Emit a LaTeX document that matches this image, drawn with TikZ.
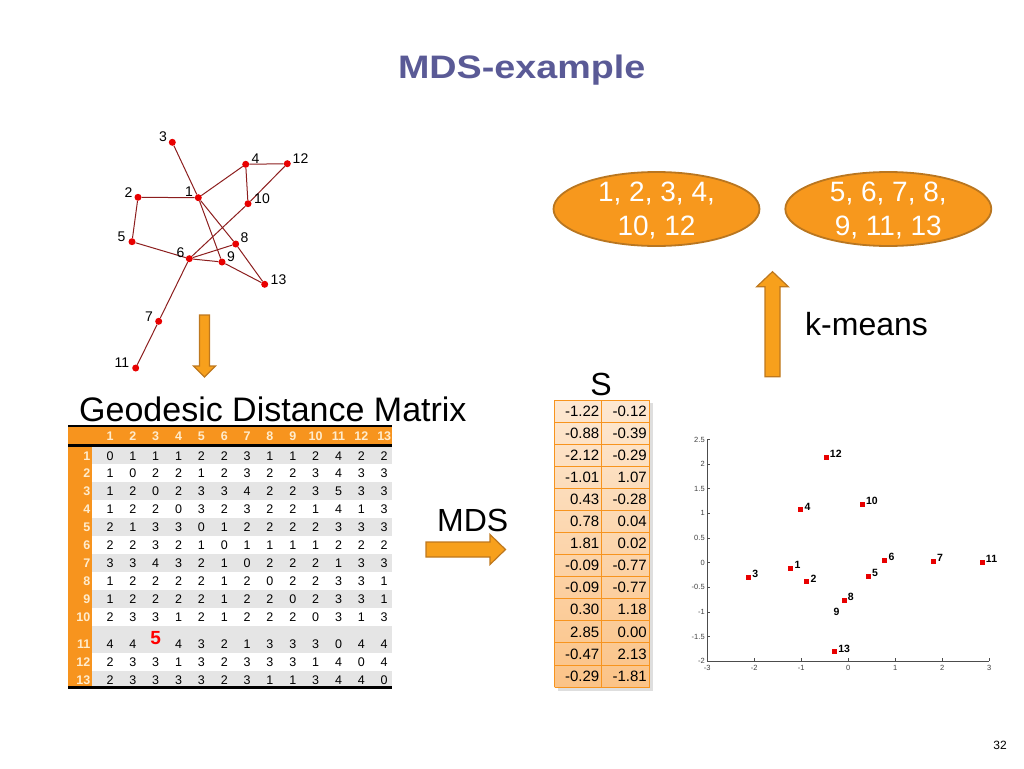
\documentclass[tikz,border=0pt]{standalone}
\usepackage{fontspec}
\setmainfont{Liberation Sans}
\usetikzlibrary{calc,shapes.geometric}
\definecolor{titleblue}{RGB}{90,90,150}
\definecolor{mOrange}{RGB}{247,148,30}
\definecolor{ellFill}{RGB}{247,152,29}
\definecolor{ellLine}{RGB}{185,118,32}
\definecolor{arrFill}{RGB}{247,160,28}
\definecolor{arrLine}{RGB}{190,120,30}
\definecolor{edgeRed}{RGB}{140,30,30}
\definecolor{dotRed}{RGB}{232,0,0}
\definecolor{rowGray}{RGB}{229,229,229}
\definecolor{headTxt}{RGB}{255,236,205}
\definecolor{sLine}{RGB}{247,148,30}
\definecolor{sTop}{RGB}{253,232,210}
\definecolor{sBot}{RGB}{251,195,135}
\newcommand{\fsz}[1]{\fontsize{#1}{#1}\selectfont}
\begin{document}
\begin{tikzpicture}[x=1pt,y=-1pt,
  gdot/.style={circle,fill=dotRed,inner sep=0pt,minimum size=7pt},
  gedge/.style={draw=edgeRed,line width=1pt},
  glab/.style={font=\fsz{14},inner sep=0pt},
  mcell/.style={font=\fsz{12.5},inner sep=0pt},
  rlab/.style={font=\bfseries\fsz{12.5},text=headTxt,inner sep=0pt,anchor=east},
  hlab/.style={font=\bfseries\fsz{12.5},text=headTxt,inner sep=0pt},
  sval/.style={font=\fsz{15},inner sep=0pt,anchor=east},
  sqm/.style={rectangle,fill=dotRed,inner sep=0pt,minimum size=5pt},
  plab/.style={font=\bfseries\fsz{10.5},inner sep=0pt},
  ticklab/.style={font=\fsz{7.5},text=black!75,inner sep=1.5pt},
  axisline/.style={draw=black!70,line width=0.8pt},
  ell/.style={ellipse,draw=ellLine,line width=1.8pt,fill=ellFill,minimum width=206pt,minimum height=74pt,inner sep=0pt},
  elltxt/.style={text=white,align=center,font=\fontsize{28}{34}\selectfont,inner sep=0pt},
  blockarrow/.style={fill=arrFill,draw=arrLine,line width=1.2pt,line join=miter}
]
\useasboundingbox (0,0) rectangle (1024,768);

% Title
\node[font=\bfseries\fsz{32.5},text=titleblue,anchor=base,inner sep=0pt] (title) at (521.7,78.3) {\scalebox{1.16}[1]{MDS-example}};

% ---------- Graph ----------
\node[gdot] (g1) at (198.3,197.7) {};
\node[gdot] (g2) at (138,197.3) {};
\node[gdot] (g3) at (172.3,142.3) {};
\node[gdot] (g4) at (245.7,164.3) {};
\node[gdot] (g5) at (132,241.7) {};
\node[gdot] (g6) at (189.3,258.7) {};
\node[gdot] (g7) at (158.7,321.3) {};
\node[gdot] (g8) at (235.7,244) {};
\node[gdot] (g9) at (222,262) {};
\node[gdot] (g10) at (248,203.7) {};
\node[gdot] (g11) at (135.7,368) {};
\node[gdot] (g12) at (287.3,163.7) {};
\node[gdot] (g13) at (264.7,284.3) {};
\foreach \a/\b in {3/1,1/2,1/4,4/12,4/10,12/10,10/6,2/5,5/6,6/8,6/9,9/13,8/13,1/8,1/9,6/7,7/11}
  \draw[gedge] (g\a) -- (g\b);
\node[glab] (t1) at (189,191.5) {1};
\node[glab] (t2) at (128.5,192.5) {2};
\node[glab] (t3) at (163,136.5) {3};
\node[glab] (t4) at (255.5,159) {4};
\node[glab] (t5) at (121.5,236.5) {5};
\node[glab] (t6) at (180.5,253) {6};
\node[glab] (t7) at (149,316.5) {7};
\node[glab] (t8) at (244.5,238) {8};
\node[glab] (t9) at (231,257) {9};
\node[glab] (t10) at (262,199) {10};
\node[glab] (t11) at (122,362.5) {11};
\node[glab] (t12) at (300.5,159) {12};
\node[glab] (t13) at (278.5,280) {13};

% down arrow
\filldraw[blockarrow] (199.5,315) -- (209.5,315) -- (209.5,366) -- (215.5,366) -- (204.5,377) -- (193.5,366) -- (199.5,366) -- cycle;

% ---------- Distance matrix ----------
\node[font=\fsz{34},anchor=base west,inner sep=0pt] (gdm) at (79,421) {Geodesic Distance Matrix};
\foreach \r in {1,3,5,7,9}
  \fill[rowGray] (68,{446.5+(\r-1)*17.9}) rectangle (392,{446.5+\r*17.9});
\fill[rowGray] (68,625.5) rectangle (392,653);
\fill[rowGray] (68,671) rectangle (392,686);
\fill[mOrange] (68,426) rectangle (92,687);
\fill[mOrange] (68,426) rectangle (392,445);
\draw[line width=2.5pt] (68,426.2) -- (392,426.2);
\draw[line width=2.5pt] (68,445.5) -- (392,445.5);
\draw[line width=3pt] (68,687.5) -- (392,687.5);
\foreach \c in {1,...,13}
  \node[hlab] (h\c) at ({110+(\c-1)*22.85},436) {\c};
\foreach \rowv [count=\r] in {{0,1,1,1,2,2,3,1,1,2,4,2,2},{1,0,2,2,1,2,3,2,2,3,4,3,3},{1,2,0,2,3,3,4,2,2,3,5,3,3},{1,2,2,0,3,2,3,2,2,1,4,1,3},{2,1,3,3,0,1,2,2,2,2,3,3,3},{2,2,3,2,1,0,1,1,1,1,2,2,2},{3,3,4,3,2,1,0,2,2,2,1,3,3},{1,2,2,2,2,1,2,0,2,2,3,3,1},{1,2,2,2,2,1,2,2,0,2,3,3,1},{2,3,3,1,2,1,2,2,2,0,3,1,3},{2,3,3,1,3,2,3,3,3,1,4,0,4},{2,3,3,3,3,2,3,1,1,3,4,4,0}} {
  \pgfmathsetmacro\yy{\r<=10 ? 455.7+(\r-1)*17.9 : 662+(\r-11)*18}
  \pgfmathtruncatemacro\rl{\r<=10 ? \r : \r+1}
  \node[rlab] (rl\rl) at (90.5,\yy) {\rl};
  \foreach \v [count=\c] in \rowv {
    \node[mcell] (m\rl-\c) at ({110+(\c-1)*22.85},\yy) {\v};
  }
}
\node[rlab] (rl11) at (90.5,644) {11};
\foreach \c/\v in {1/4,2/4,4/4,5/3,6/2,7/1,8/3,9/3,10/3,11/0,12/4,13/4}
  \node[mcell] (m11-\c) at ({110+(\c-1)*22.85},644) {\v};
\node[font=\bfseries\fsz{19},text=red,inner sep=0pt] (m11-3) at (155.7,638) {5};

% MDS arrow
\node[font=\fsz{32},anchor=base west,inner sep=0pt] (mds) at (437,531.7) {MDS};
\filldraw[blockarrow] (426,542) -- (490,542) -- (490,534.5) -- (505.5,549.5) -- (490,564.5) -- (490,557) -- (426,557) -- cycle;

% ---------- S table ----------
\node[font=\fsz{32},anchor=base,inner sep=0pt] (slab) at (601,395) {S};
\fill[black,opacity=0.13] (557.5,403) rectangle (653,690.5);
\shade[top color=sTop,bottom color=sBot] (554.5,400) rectangle (649.5,687);
\foreach \i in {0,...,13}
  \draw[sLine,line width=0.8pt] (554.5,{400+\i*22.08}) -- (649.5,{400+\i*22.08});
\draw[sLine,line width=0.8pt] (554.5,400) -- (554.5,687);
\draw[sLine,line width=0.8pt] (601.7,400) -- (601.7,687);
\draw[sLine,line width=0.8pt] (649.5,400) -- (649.5,687);
\foreach \a/\b [count=\i] in {-1.22/-0.12,-0.88/-0.39,-2.12/-0.29,-1.01/1.07,0.43/-0.28,0.78/0.04,1.81/0.02,-0.09/-0.77,-0.09/-0.77,0.30/1.18,2.85/0.00,-0.47/2.13,-0.29/-1.81} {
  \node[sval] (sa\i) at (599.5,{400+(\i-0.5)*22.08}) {\a};
  \node[sval] (sb\i) at (647,{400+(\i-0.5)*22.08}) {\b};
}

% ---------- Scatter plot ----------
\begin{scope}[shift={(848.3,562.7)},x=47pt,y=49.3pt]
  \draw[axisline] (-3,2.5) -- (-3,-2) -- (3,-2);
  \foreach \t [count=\k] in {-3,-2,-1,0,1,2,3} {
    \draw[axisline] (\t,-2) -- (\t,-1.94);
    \node[ticklab,anchor=north,yshift=-2.5pt] (xt\k) at (\t,-2) {\t};
  }
  \foreach \t/\s [count=\k] in {-2/-2,-1.5/-1.5,-1/-1,-0.5/-0.5,0/0,0.5/0.5,1/1,1.5/1.5,2/2,2.5/2.5} {
    \draw[axisline] (-3,\t) -- (-2.936,\t);
    \node[ticklab,anchor=east] (yt\k) at (-3.02,\t) {\s};
  }
  \foreach \n/\px/\py in {1/-1.22/-0.12,2/-0.88/-0.39,3/-2.12/-0.29,4/-1.01/1.07,5/0.43/-0.28,6/0.78/0.04,7/1.81/0.02,8/-0.09/-0.77,9/-0.09/-0.77,10/0.30/1.18,11/2.85/0.00,12/-0.47/2.13,13/-0.29/-1.81}
    \node[sqm] (p\n) at (\px,\py) {};
  \foreach \n/\px/\py in {1/-1.22/-0.12,2/-0.88/-0.39,3/-2.12/-0.29,4/-1.01/1.07,5/0.43/-0.28,6/0.78/0.04,7/1.81/0.02,8/-0.09/-0.77,10/0.30/1.18,11/2.85/0.00,12/-0.47/2.13,13/-0.29/-1.81}
    \node[plab,anchor=west] (pl\n) at (\px+0.075,\py+0.07) {\n};
  \node[plab] (pl9) at (-0.25,-1.0) {9};
\end{scope}

% ---------- k-means ----------
\filldraw[blockarrow] (765,376.7) -- (765,286.7) -- (756.7,286.7) -- (772.5,271.7) -- (788.3,286.7) -- (780,286.7) -- (780,376.7) -- cycle;
\node[font=\fsz{32},anchor=base west,inner sep=0pt] (km) at (805,335) {k-means};

\node[ell] (e1) at (656.5,209) {};
\node[elltxt] (e1t) at (656.5,210.5) {1, 2, 3, 4,\\10, 12};
\node[ell] (e2) at (888.3,209) {};
\node[elltxt] (e2t) at (888.3,210.5) {5, 6, 7, 8,\\9, 11, 13};

\node[font=\fsz{12},inner sep=0pt] (pg) at (1000,745) {32};
\end{tikzpicture}
\end{document}
